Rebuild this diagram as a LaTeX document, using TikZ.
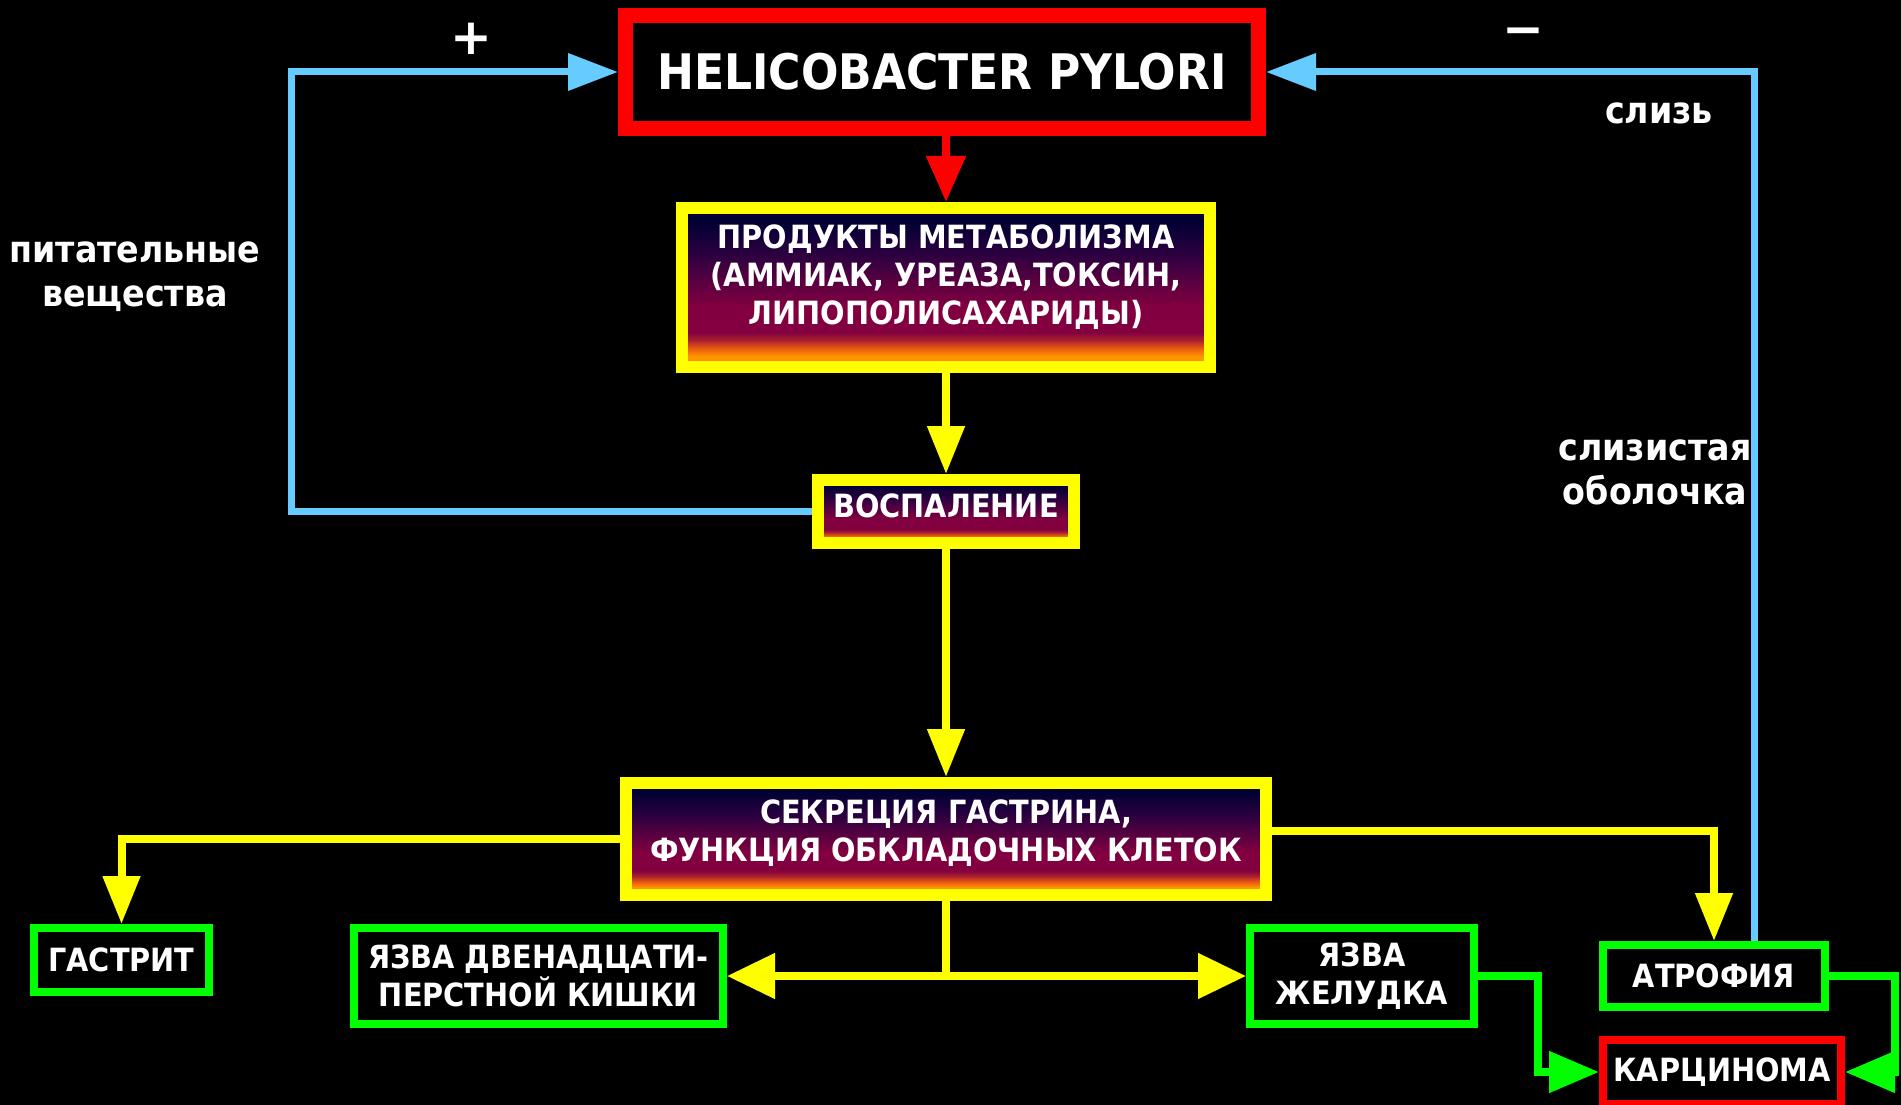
\documentclass[tikz,border=0pt]{standalone}
\usepackage{fontspec}
\setmainfont{DejaVu Sans}
\newfontfamily\condfont{DejaVu Sans Condensed}
\usetikzlibrary{arrows.meta}

\definecolor{hpred}{HTML}{FF0000}
\definecolor{yel}{HTML}{FFFF00}
\definecolor{grn}{HTML}{00FF00}
\definecolor{sky}{HTML}{66CCFF}
\definecolor{gnavy}{HTML}{000033}
\definecolor{gpurple}{HTML}{2E0040}
\definecolor{gwine}{HTML}{820040}
\definecolor{gcrimson}{HTML}{A82030}
\definecolor{gflame}{HTML}{E85810}
\definecolor{gorange}{HTML}{FF9400}

\pgfdeclareverticalshading{boxgrad}{100bp}{color(0bp)=(gorange); color(25bp)=(gorange); color(28.5bp)=(gorange); color(31bp)=(gflame); color(33.5bp)=(gcrimson); color(36bp)=(gwine); color(44bp)=(gwine); color(60bp)=(gpurple); color(71bp)=(gnavy); color(100bp)=(gnavy)}

\begin{document}
\begin{tikzpicture}[x=1pt, y=-1pt,
  boxtext/.style={text=white, align=center, font=\condfont\bfseries\fontsize{32}{38}\selectfont},
  hpbox/.style={draw=hpred, line width=15pt, fill=black, inner sep=0pt, boxtext, font=\condfont\bfseries\fontsize{49}{58}\selectfont},
  gradbox/.style={draw=yel, line width=12pt, shading=boxgrad, inner sep=0pt},
  grnbox/.style={draw=grn, line width=8pt, fill=black, inner sep=0pt, boxtext},
  redbox/.style={draw=hpred, line width=8pt, fill=black, inner sep=0pt, boxtext},
  lbl/.style={text=white, align=center, font=\condfont\bfseries\fontsize{37}{44}\selectfont},
  sign/.style={text=white, inner sep=0pt, font=\bfseries\fontsize{50}{50}\selectfont},
  redarr/.style={draw=hpred, line width=8pt, -{Triangle[length=46pt, width=38pt]}},
  yelline/.style={draw=yel, line width=8pt},
  yelarr/.style={yelline, -{Triangle[length=48pt, width=36pt]}},
  yelarrh/.style={yelline, -{Triangle[length=48pt, width=44pt]}},
  bluearr/.style={draw=sky, line width=7pt, -{Triangle[length=50pt, width=36pt]}},
  grnarr/.style={draw=grn, line width=8pt, -{Triangle[length=50pt, width=40pt]}}]

  % Hintergrund
  \useasboundingbox (0,0) rectangle (1901,1105);
  \fill[black] (0,0) rectangle (1901,1105);

  % Erreger
  \node[hpbox, minimum width=633pt, minimum height=113pt] (hp) at (942,72) {HELICOBACTER PYLORI};

  % Stoffwechsel und Entzuendung
  \node[gradbox, minimum width=528pt, minimum height=159pt] (prod) at (946,287.5) {};
  \node[boxtext] (prodtext) at (946,277) {ПРОДУКТЫ МЕТАБОЛИЗМА\\(АММИАК, УРЕАЗА,ТОКСИН,\\ЛИПОПОЛИСАХАРИДЫ)};
  \node[gradbox, minimum width=256pt, minimum height=63pt] (vosp) at (946,511.5) {};
  \node[boxtext] (vosptext) at (946,506) {ВОСПАЛЕНИЕ};
  \node[gradbox, minimum width=640pt, minimum height=112pt] (secr) at (946,839) {};
  \node[boxtext] (secrtext) at (946,833) {СЕКРЕЦИЯ ГАСТРИНА,\\ФУНКЦИЯ ОБКЛАДОЧНЫХ КЛЕТОК};

  % Folgen
  \node[grnbox, minimum width=175pt, minimum height=64pt] (gastr) at (121.5,960) {ГАСТРИТ};
  \node[grnbox, minimum width=369pt, minimum height=96pt] (duod) at (538.5,976) {ЯЗВА ДВЕНАДЦАТИ-\\ПЕРСТНОЙ КИШКИ};
  \node[grnbox, minimum width=224pt, minimum height=96pt] (ulcer) at (1362,976) {ЯЗВА\\ЖЕЛУДКА};
  \node[grnbox, minimum width=222pt, minimum height=62pt] (atro) at (1714,976) {АТРОФИЯ};
  \node[redbox, minimum width=238pt, minimum height=64pt] (carc) at (1722,1072) {КАРЦИНОМА};

  % Beschriftungen
  \node[lbl] (nutr) at (135,277) {питательные\\вещества};
  \node[lbl] (mucus) at (1659,113) {слизь};
  \node[lbl] (mucosa) at (1655,472) {слизистая\\оболочка};
  \node[sign] (plus) at (471,39) {+};
  \node[sign] (minus) at (1523,37) {−};

  % Hauptachse
  \draw[redarr] (hp.south -| prod.north) -- (prod.north);
  \draw[yelarr] (prod.south) -- (vosp.north);
  \draw[yelarr] (vosp.south) -- (secr.north);

  % Verzweigungen
  \draw[yelarr] (secr.west) -| (gastr.north);
  \draw[yelarr] ([yshift=8pt]secr.east) -| (atro.north);
  \coordinate (split) at (946,976);
  \draw[yelline] (secr.south) -- (split);
  \draw[yelarrh] (split) -- (duod.east);
  \draw[yelarrh] (split) -- (ulcer.west);

  % Rueckkopplung
  \coordinate (bluel) at (291,72);
  \draw[bluearr] (vosp.west) -| (bluel) -- (hp.west);
  \draw[bluearr] ([xshift=40pt]atro.north) |- (hp.east);

  % Karzinom
  \draw[grnarr] (ulcer.east) -- ++(60,0) |- (carc.west);
  \draw[grnarr] (atro.east) -- ++(66,0) |- (carc.east);
\end{tikzpicture}
\end{document}
